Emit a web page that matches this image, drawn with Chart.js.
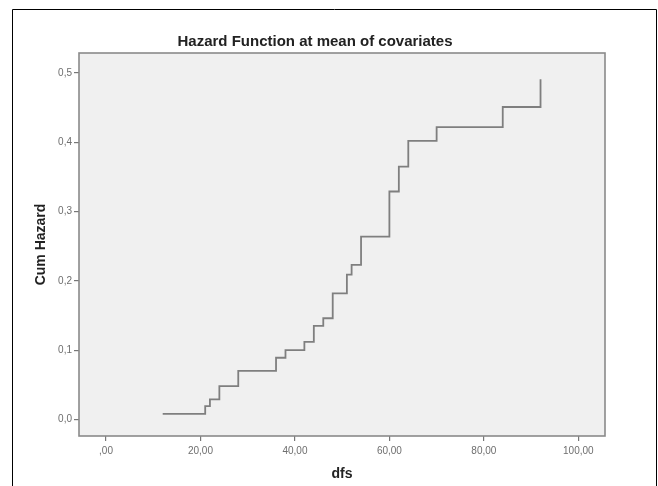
<!DOCTYPE html>
<html>
<head>
<meta charset="utf-8">
<script src="https://cdn.jsdelivr.net/npm/chart.js@4/dist/chart.umd.min.js"></script>
<style>
html,body{margin:0;padding:0;background:#fff;}
#wrap{position:relative;width:658px;height:486px;}
</style>
</head>
<body>
<div id="wrap"><canvas id="c" width="658" height="486"></canvas></div>
<script>
// Data (step function, change points)
const dfsTimes   = [12, 21, 22, 24, 28, 36, 38, 42, 44, 46, 48, 51, 52, 54, 60, 62, 64, 70, 84, 92];
const cumHazard  = [0.008, 0.019, 0.029, 0.048, 0.070, 0.089, 0.100, 0.112, 0.135, 0.146, 0.182, 0.209, 0.223, 0.264, 0.329, 0.365, 0.402, 0.422, 0.451, 0.491];
const xTickValues = [0, 20, 40, 60, 80, 100];
const xTickLabels = [',00', '20,00', '40,00', '60,00', '80,00', '100,00'];
const yTickValues = [0, 0.1, 0.2, 0.3, 0.4, 0.5];
const yTickLabels = ['0,0', '0,1', '0,2', '0,3', '0,4', '0,5'];
const chartTitle = 'Hazard Function at mean of covariates';
const xTitle = 'dfs';
const yTitle = 'Cum Hazard';

const points = dfsTimes.map((t, i) => ({x: t, y: cumHazard[i]}));

const decor = {
  id: 'decor',
  beforeDraw(chart) {
    const {ctx, chartArea: a} = chart;
    ctx.save();
    ctx.fillStyle = '#f0f0f0';
    ctx.fillRect(a.left, a.top, a.right - a.left, a.bottom - a.top);
    ctx.restore();
  },
  afterDraw(chart) {
    const {ctx, chartArea: a, width, height} = chart;
    ctx.save();
    ctx.strokeStyle = '#8a8a8a';
    ctx.lineWidth = 1.6;
    ctx.strokeRect(a.left, a.top, a.right - a.left, a.bottom - a.top);
    // outer frame (open at bottom)
    ctx.strokeStyle = '#000';
    ctx.lineWidth = 1;
    ctx.beginPath();
    ctx.moveTo(12.5, height);
    ctx.lineTo(12.5, 9.5);
    ctx.lineTo(width - 1.5, 9.5);
    ctx.lineTo(width - 1.5, height);
    ctx.stroke();
    // title
    ctx.fillStyle = '#222';
    ctx.font = 'bold 15px "Liberation Sans", Arial, sans-serif';
    ctx.textAlign = 'center';
    ctx.textBaseline = 'middle';
    ctx.fillText(chartTitle, (a.left + a.right) / 2 - 27, 42);
    ctx.restore();
  }
};

new Chart(document.getElementById('c'), {
  type: 'line',
  data: {
    datasets: [{
      data: points,
      stepped: 'before',
      borderColor: '#7f7f7f',
      borderWidth: 1.8,
      pointRadius: 0,
      fill: false,
      tension: 0
    }]
  },
  options: {
    responsive: false,
    animation: false,
    events: [],
    layout: {padding: {left: 0, top: 53, right: 53, bottom: 0}},
    plugins: {legend: {display: false}, tooltip: {enabled: false}, title: {display: false}},
    scales: {
      x: {
        type: 'linear',
        min: -5.72,
        max: 105.65,
        afterFit(s) { s.height = 50; },
        afterBuildTicks(s) { s.ticks = xTickValues.map(v => ({value: v})); },
        grid: {drawOnChartArea: false, drawTicks: true, tickLength: 5, color: '#777', lineWidth: 1.2},
        border: {display: false},
        ticks: {
          color: '#6e6e6e',
          font: {family: '"Liberation Sans", Arial, sans-serif', size: 10},
          padding: 4,
          maxRotation: 0,
          autoSkip: false,
          callback(v) { const i = xTickValues.indexOf(v); return i >= 0 ? xTickLabels[i] : ''; }
        },
        title: {
          display: true, text: xTitle, color: '#222',
          font: {family: '"Liberation Sans", Arial, sans-serif', size: 14, weight: 'bold'},
          padding: {top: 0, bottom: 3}
        }
      },
      y: {
        type: 'linear',
        min: -0.024,
        max: 0.529,
        afterFit(s) { s.width = 79; },
        afterBuildTicks(s) { s.ticks = yTickValues.map(v => ({value: v})); },
        grid: {drawOnChartArea: false, drawTicks: true, tickLength: 5, color: '#777', lineWidth: 1.2},
        border: {display: false},
        ticks: {
          color: '#6e6e6e',
          font: {family: '"Liberation Sans", Arial, sans-serif', size: 10},
          padding: 2,
          autoSkip: false,
          callback(v) { const i = yTickValues.findIndex(t => Math.abs(t - v) < 1e-9); return i >= 0 ? yTickLabels[i] : ''; }
        },
        title: {
          display: true, text: yTitle, color: '#222',
          font: {family: '"Liberation Sans", Arial, sans-serif', size: 14, weight: 'bold'},
          padding: {top: 33, bottom: 0}
        }
      }
    }
  },
  plugins: [decor]
});
</script>
</body>
</html>
